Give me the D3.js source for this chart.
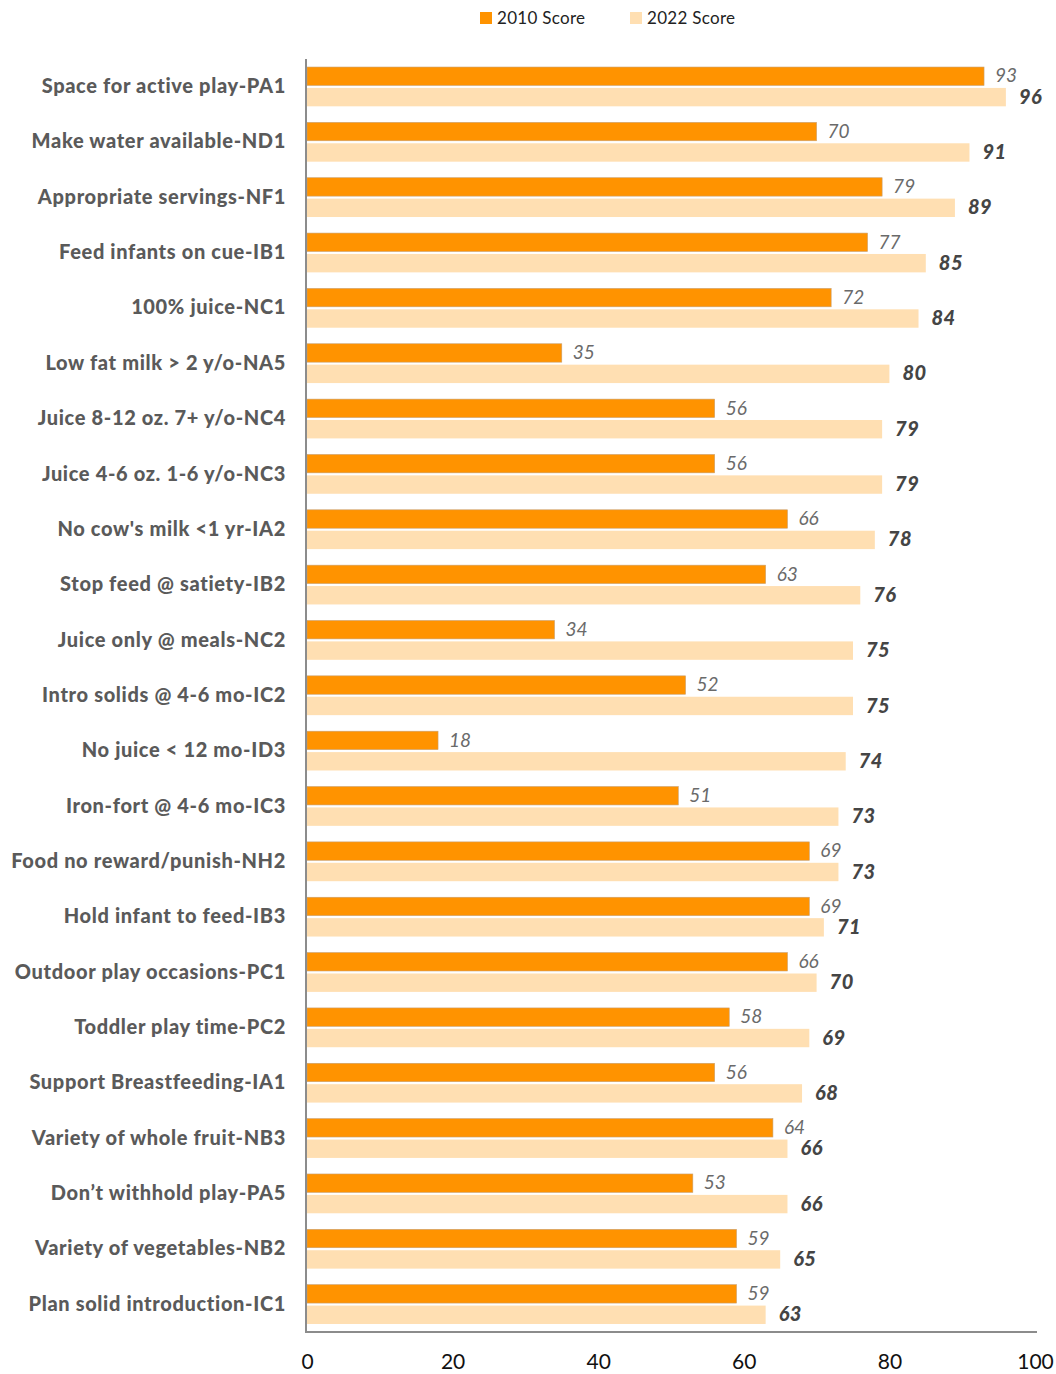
<!DOCTYPE html>
<html>
<head>
<meta charset="utf-8">
<script src="https://cdn.jsdelivr.net/npm/d3@7"></script>
<style>
  html, body { margin: 0; padding: 0; background: #fff; }
  svg { display: block; }
</style>
</head>
<body>
<svg id="chart" width="1056" height="1374"></svg>
<script>
const categories = [
  "Space for active play-PA1",
  "Make water available-ND1",
  "Appropriate servings-NF1",
  "Feed infants on cue-IB1",
  "100% juice-NC1",
  "Low fat milk > 2 y/o-NA5",
  "Juice 8-12 oz. 7+ y/o-NC4",
  "Juice 4-6 oz. 1-6 y/o-NC3",
  "No cow's milk <1 yr-IA2",
  "Stop feed @ satiety-IB2",
  "Juice only @ meals-NC2",
  "Intro solids @ 4-6 mo-IC2",
  "No juice < 12 mo-ID3",
  "Iron-fort @ 4-6 mo-IC3",
  "Food no reward/punish-NH2",
  "Hold infant to feed-IB3",
  "Outdoor play occasions-PC1",
  "Toddler play time-PC2",
  "Support Breastfeeding-IA1",
  "Variety of whole fruit-NB3",
  "Don’t withhold play-PA5",
  "Variety of vegetables-NB2",
  "Plan solid introduction-IC1"
];
const score2010 = [93,70,79,77,72,35,56,56,66,63,34,52,18,51,69,69,66,58,56,64,53,59,59];
const score2022 = [96,91,89,85,84,80,79,79,78,76,75,75,74,73,73,71,70,69,68,66,66,65,63];
const seriesNames = ["2010 Score", "2022 Score"];
const xTicks = [0,20,40,60,80,100];

const colors = ["#FF9300", "#FFDFB2"];
const font = "Lato, 'Open Sans', sans-serif";

const rows = categories.map((c, i) => ({ cat: c, values: [score2010[i], score2022[i]] }));

const svg = d3.select("#chart");
const x = d3.scaleLinear().domain([0, 100]).range([307, 1035]);
const y = d3.scaleBand().domain(categories).range([59, 1332]).paddingInner(0.29).paddingOuter(0.145);
const ySub = d3.scaleBand().domain([0, 1]).range([0, y.bandwidth()]).paddingInner(0.12);

// Bars
const groups = svg.append("g").selectAll("g").data(rows).join("g")
  .attr("transform", d => `translate(0,${y(d.cat)})`);

groups.selectAll("rect").data(d => d.values.map((v, k) => ({ v, k }))).join("rect")
  .attr("x", x(0))
  .attr("y", d => ySub(d.k))
  .attr("width", d => x(d.v) - x(0))
  .attr("height", ySub.bandwidth())
  .attr("fill", d => colors[d.k])
  .attr("stroke", d => d.k === 0 ? "#c8a070" : "none")
  .attr("stroke-width", 0.6);

groups.selectAll("text").data(d => d.values.map((v, k) => ({ v, k }))).join("text")
  .attr("x", d => x(d.v) + (d.k === 0 ? 11 : 13))
  .attr("y", d => ySub(d.k) + ySub.bandwidth() / 2)
  .attr("dy", "0.33em")
  .attr("font-family", font)
  .attr("font-size", d => d.k === 0 ? 19 : 20)
  .attr("font-style", "italic")
  .attr("font-weight", d => d.k === 0 ? 400 : 900)
  .attr("letter-spacing", d => d.k === 0 ? 0 : 0.5)
  .attr("fill", d => d.k === 0 ? "#6a6a6a" : "#454545")
  .text(d => d.v);

// Category labels
const yAxis = svg.append("g")
  .attr("transform", `translate(${x(0)},0)`)
  .call(d3.axisLeft(y).tickSize(0).tickPadding(21));
yAxis.select(".domain").remove();
yAxis.selectAll("text")
  .attr("font-family", font)
  .attr("font-size", 20)
  .attr("font-weight", 900)
  .attr("letter-spacing", 0.65)
  .attr("fill", "#5a5a5a");

// X axis
const xAxis = svg.append("g")
  .attr("transform", `translate(0,1332)`)
  .call(d3.axisBottom(x).tickValues(xTicks).tickSize(0).tickPadding(22));
xAxis.select(".domain").remove();
xAxis.selectAll("text")
  .attr("font-family", font)
  .attr("font-size", 21)
  .attr("fill", "#111");

// Axis lines
svg.append("line")
  .attr("x1", x(0) - 1).attr("x2", x(0) - 1)
  .attr("y1", 59).attr("y2", 1332)
  .attr("stroke", "#8c8c8c").attr("stroke-width", 2);
svg.append("line")
  .attr("x1", x(0) - 2).attr("x2", x(100) + 2)
  .attr("y1", 1332).attr("y2", 1332)
  .attr("stroke", "#8c8c8c").attr("stroke-width", 2);

// Legend
const legendX = [480, 630];
const legend = svg.append("g").selectAll("g").data(seriesNames).join("g")
  .attr("transform", (d, i) => `translate(${legendX[i]},12)`);
legend.append("rect")
  .attr("width", 12).attr("height", 12)
  .attr("fill", (d, i) => colors[i]);
legend.append("text")
  .attr("x", 17).attr("y", 6).attr("dy", "0.36em")
  .attr("font-family", font)
  .attr("font-size", 17)
  .attr("letter-spacing", 0.3)
  .attr("fill", "#222")
  .text(d => d);
</script>
</body>
</html>
